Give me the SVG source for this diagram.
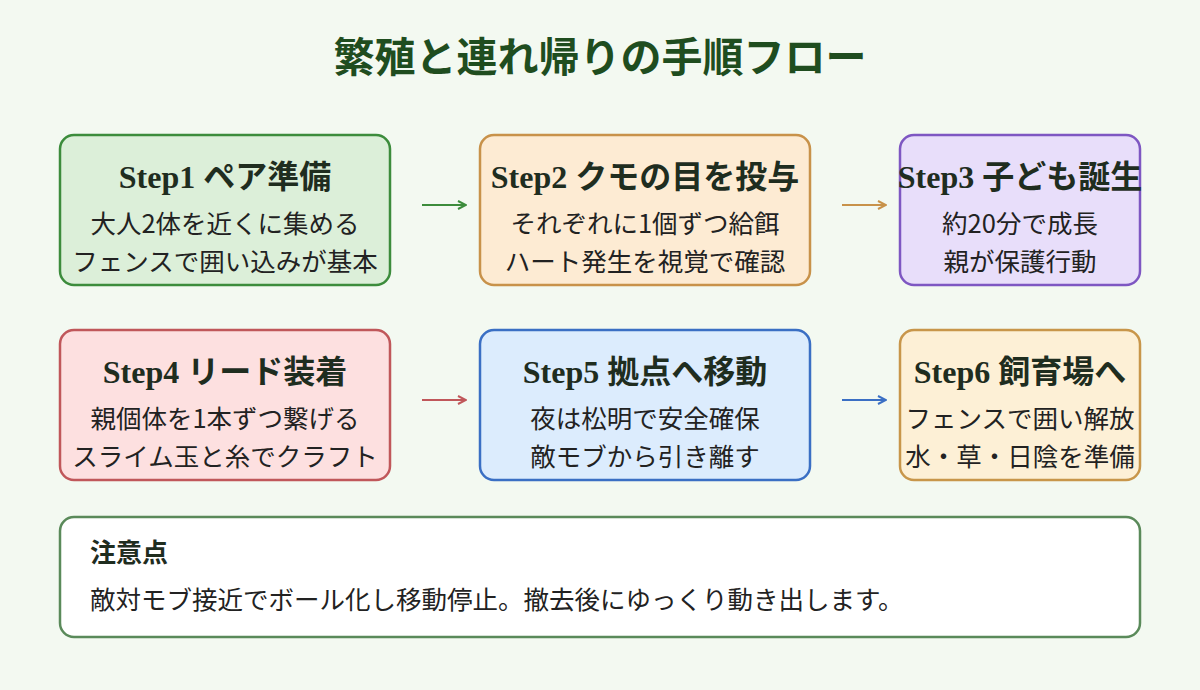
<svg xmlns="http://www.w3.org/2000/svg" width="1200" height="690" viewBox="0 0 1200 690">
<defs>
<style>
.t{font-family:"Liberation Serif","Noto Sans CJK JP",serif;font-weight:bold;font-size:32px;fill:#1f2d1f;text-anchor:middle}
.b{font-family:"Noto Sans CJK JP","Noto Sans",sans-serif;font-size:25.5px;fill:#222;text-anchor:middle}
.box{stroke-width:2.5}
.c{stroke-width:2;fill:none}
</style>
<marker id="mg" markerWidth="10" markerHeight="10" refX="9" refY="5" orient="auto" markerUnits="userSpaceOnUse"><path d="M1,1 L9,5 L1,9" fill="none" stroke="#3c8c3c" stroke-width="2"/></marker>
<marker id="mo" markerWidth="10" markerHeight="10" refX="9" refY="5" orient="auto" markerUnits="userSpaceOnUse"><path d="M1,1 L9,5 L1,9" fill="none" stroke="#c8924a" stroke-width="2"/></marker>
<marker id="mr" markerWidth="10" markerHeight="10" refX="9" refY="5" orient="auto" markerUnits="userSpaceOnUse"><path d="M1,1 L9,5 L1,9" fill="none" stroke="#c0575a" stroke-width="2"/></marker>
<marker id="mb" markerWidth="10" markerHeight="10" refX="9" refY="5" orient="auto" markerUnits="userSpaceOnUse"><path d="M1,1 L9,5 L1,9" fill="none" stroke="#3a6fc4" stroke-width="2"/></marker>
</defs>
<rect width="1200" height="690" fill="#f3f9f1"/>
<text x="600" y="72" font-family="Noto Sans CJK JP,sans-serif" font-weight="bold" font-size="41" fill="#1f4d1f" text-anchor="middle">繁殖と連れ帰りの手順フロー</text>
<g id="connectors">
<line class="c" x1="422" y1="205" x2="466" y2="205" stroke="#3c8c3c" marker-end="url(#mg)"/>
<line class="c" x1="842" y1="205" x2="886" y2="205" stroke="#c8924a" marker-end="url(#mo)"/>
<line class="c" x1="422" y1="400" x2="466" y2="400" stroke="#c0575a" marker-end="url(#mr)"/>
<line class="c" x1="842" y1="400" x2="886" y2="400" stroke="#3a6fc4" marker-end="url(#mb)"/>
</g>
<g id="step1"><rect class="box" x="60" y="135" width="330" height="150" rx="14" fill="#dcefd9" stroke="#3c8c3c"/>
<text class="t" x="225" y="188">Step1 ペア準備</text><text class="b" x="225" y="233">大人2体を近くに集める</text><text class="b" x="225" y="271">フェンスで囲い込みが基本</text></g>
<g id="step2"><rect class="box" x="480" y="135" width="330" height="150" rx="14" fill="#fdebd3" stroke="#c8924a"/>
<text class="t" x="645" y="188">Step2 クモの目を投与</text><text class="b" x="645" y="233">それぞれに1個ずつ給餌</text><text class="b" x="645" y="271">ハート発生を視覚で確認</text></g>
<g id="step3"><rect class="box" x="900" y="135" width="240" height="150" rx="14" fill="#e8defa" stroke="#7e57c2"/>
<text class="t" x="1020" y="188">Step3 子ども誕生</text><text class="b" x="1020" y="233">約20分で成長</text><text class="b" x="1020" y="271">親が保護行動</text></g>
<g id="step4"><rect class="box" x="60" y="330" width="330" height="150" rx="14" fill="#fde0e0" stroke="#c0575a"/>
<text class="t" x="225" y="383">Step4 リード装着</text><text class="b" x="225" y="428">親個体を1本ずつ繋げる</text><text class="b" x="225" y="466">スライム玉と糸でクラフト</text></g>
<g id="step5"><rect class="box" x="480" y="330" width="330" height="150" rx="14" fill="#dcecfd" stroke="#3a6fc4"/>
<text class="t" x="645" y="383">Step5 拠点へ移動</text><text class="b" x="645" y="428">夜は松明で安全確保</text><text class="b" x="645" y="466">敵モブから引き離す</text></g>
<g id="step6"><rect class="box" x="900" y="330" width="240" height="150" rx="14" fill="#fdf0d6" stroke="#c8964a"/>
<text class="t" x="1020" y="383">Step6 飼育場へ</text><text class="b" x="1020" y="428">フェンスで囲い解放</text><text class="b" x="1020" y="466">水・草・日陰を準備</text></g>
<g id="note"><rect class="box" x="60" y="517" width="1080" height="120" rx="14" fill="#ffffff" stroke="#5a8a5a"/>
<text x="90" y="562" font-family="Noto Sans CJK JP,sans-serif" font-weight="bold" font-size="26" fill="#1f2d1f">注意点</text>
<text x="90" y="609" font-family="Noto Sans CJK JP,sans-serif" font-size="25.5" fill="#222">敵対モブ接近でボール化し移動停止。撤去後にゆっくり動き出します。</text></g>
</svg>
